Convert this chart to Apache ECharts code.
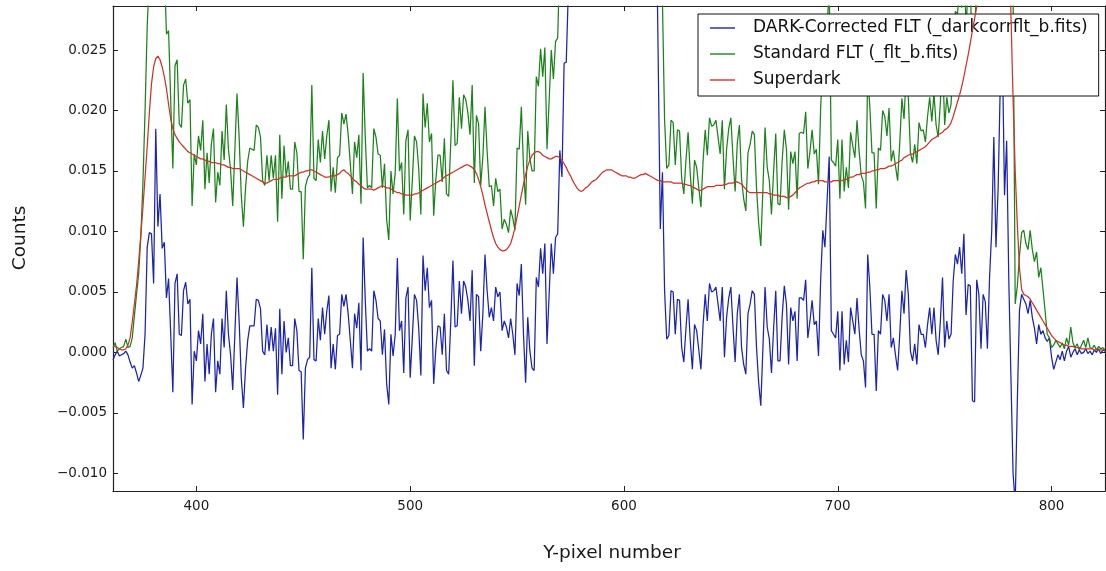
<!DOCTYPE html>
<html>
<head>
<meta charset="utf-8">
<title>Y-pixel profile</title>
<script src="https://cdn.jsdelivr.net/npm/echarts@6/dist/echarts.min.js"></script>
<style>
  html, body { margin: 0; padding: 0; background: #ffffff; }
  #chart { width: 1106px; height: 571px; }
</style>
</head>
<body>
<div id="chart"></div>
<script>
// Y-pixel numbers run 361..825, one sample per pixel
const firstPixel = 361;

// DARK-Corrected FLT (_darkcorrflt_b.fits)
const darkCorrected = [
  -0.0006,-0.0002,0.0001,-0.0003,-0.0002,-0.0001,0.0001,-0.0002,-0.0008,-0.0013, // 361
  -0.0011,-0.0017,-0.0024,-0.0019,-0.0013,0.0015,0.0087,0.0099,0.0098,0.0057,
  0.0185,0.0104,0.0131,0.0086,0.0091,0.0045,0.0061,0.0015,-0.0033,0.0057,
  0.0065,0.0015,0.0014,0.0051,0.0058,0.0040,0.0044,-0.0043,0.0001,-0.0007,
  0.0018,0.0007,0.0032,-0.0024,0.0007,-0.0018,0.0015,0.0028,-0.0033,-0.0007, // 401
  -0.0018,0.0028,0.0004,0.0051,0.0015,-0.0002,-0.0031,0.0015,0.0062,0.0026,
  -0.0021,-0.0046,-0.0013,0.0010,0.0022,0.0022,0.0022,0.0044,0.0043,0.0036,
  0.0001,-0.0002,0.0023,0.0001,0.0021,0.0001,0.0020,-0.0035,0.0036,-0.0018,
  0.0026,0.0000,0.0012,-0.0011,-0.0011,0.0028,0.0018,-0.0015,-0.0016,-0.0072, // 441
  -0.0013,-0.0006,-0.0004,0.0070,-0.0006,-0.0007,0.0028,0.0010,0.0037,0.0015,
  0.0034,0.0047,-0.0013,0.0007,-0.0014,0.0014,0.0015,0.0048,0.0038,0.0048,
  0.0032,0.0010,-0.0013,0.0032,0.0020,0.0041,-0.0015,0.0095,0.0043,0.0001,
  0.0003,0.0001,0.0051,0.0043,0.0028,0.0026,-0.0002,0.0019,-0.0026,-0.0043, // 481
  0.0015,-0.0003,0.0015,0.0078,0.0018,0.0026,-0.0017,0.0045,0.0054,-0.0021,
  0.0012,0.0048,0.0043,0.0020,-0.0019,0.0080,0.0051,0.0070,0.0037,0.0043,
  -0.0026,0.0003,0.0022,0.0021,-0.0002,0.0032,-0.0015,-0.0018,0.0026,0.0076,
  0.0021,0.0022,0.0059,0.0032,0.0059,0.0054,0.0043,0.0026,0.0068,-0.0011, // 521
  0.0048,0.0046,0.0001,0.0032,0.0081,0.0051,0.0029,0.0037,0.0026,0.0054,
  0.0046,0.0050,0.0018,0.0026,0.0021,0.0012,0.0028,0.0015,-0.0002,0.0057,
  0.0047,0.0073,0.0015,-0.0025,0.0029,0.0001,-0.0013,-0.0015,0.0062,0.0054,
  0.0086,0.0065,0.0090,0.0007,0.0048,0.0090,0.0065,0.0095,0.0098,0.0167, // 561
  0.0145,0.0239,0.0240,0.0300,0.0420,0.0510,0.0560,0.0600,0.0620,0.0630,
  0.0640,0.0650,0.0650,0.0660,0.0660,0.0670,0.0670,0.0680,0.0680,0.0690,
  0.0690,0.0690,0.0700,0.0700,0.0700,0.0700,0.0700,0.0690,0.0690,0.0690,
  0.0680,0.0680,0.0670,0.0670,0.0660,0.0650,0.0640,0.0630,0.0620,0.0600, // 601
  0.0580,0.0550,0.0510,0.0450,0.0380,0.0244,0.0102,0.0149,0.0051,0.0011,
  0.0014,0.0051,0.0050,0.0015,0.0044,0.0043,0.0004,-0.0008,0.0020,0.0044,
  0.0010,-0.0014,0.0023,0.0018,0.0002,-0.0014,0.0023,0.0048,0.0026,0.0057,
  0.0050,0.0051,0.0054,0.0040,0.0026,0.0054,-0.0004,0.0029,0.0045,0.0054, // 641
  0.0021,-0.0008,0.0032,0.0048,0.0004,-0.0010,-0.0018,0.0032,0.0040,0.0051,
  0.0048,0.0004,-0.0025,-0.0044,0.0004,0.0054,0.0021,0.0011,-0.0017,0.0020,
  0.0051,-0.0007,-0.0007,0.0030,0.0055,0.0040,-0.0010,0.0037,0.0026,0.0034,
  -0.0007,0.0045,0.0045,0.0043,0.0060,0.0012,0.0026,0.0043,0.0023,0.0026, // 681
  -0.0003,0.0060,0.0101,0.0087,0.0125,0.0162,0.0018,0.0015,0.0012,0.0034,
  -0.0015,0.0034,-0.0010,0.0010,-0.0008,0.0037,0.0026,0.0015,0.0045,0.0019,
  -0.0002,-0.0007,-0.0029,0.0081,0.0054,0.0015,0.0015,-0.0032,0.0018,0.0015,
  0.0048,0.0043,0.0026,0.0048,0.0004,0.0012,-0.0002,-0.0015,0.0015,0.0051, // 721
  0.0032,0.0068,0.0048,0.0001,-0.0007,0.0007,-0.0010,0.0023,0.0015,0.0015,
  0.0004,0.0023,0.0037,0.0015,0.0037,0.0010,-0.0002,0.0026,0.0062,0.0004,
  0.0026,0.0011,0.0015,0.0059,0.0081,0.0073,0.0087,0.0065,0.0098,0.0031,
  0.0056,0.0055,-0.0040,-0.0041,0.0060,0.0048,0.0003,0.0048,0.0042,0.0003, // 761
  0.0062,0.0100,0.0178,0.0087,0.0135,0.0220,0.0250,0.0130,0.0175,0.0060,
  -0.0020,-0.0100,-0.0125,-0.0040,0.0035,0.0048,0.0044,0.0040,0.0032,0.0043,
  0.0029,0.0020,0.0007,0.0023,0.0015,0.0018,0.0012,0.0009,0.0012,-0.0004,
  -0.0014,-0.0008,-0.0002,-0.0006,0.0001,-0.0007,0.0001,0.0005,-0.0004,0.0000, // 801
  0.0003,-0.0002,0.0002,-0.0001,0.0000,0.0003,-0.0001,0.0001,-0.0002,0.0002,
  0.0000,0.0003,-0.0001,0.0002,0.0001
];

// Standard FLT (_flt_b.fits)
const standardFlt = [
  0.0004,0.0008,0.0001,0.0003,0.0004,0.0005,0.0011,0.0004,0.0005,0.0012, // 361
  0.0030,0.0048,0.0065,0.0095,0.0140,0.0200,0.0270,0.0310,0.0340,0.0330,
  0.0430,0.0370,0.0380,0.0330,0.0320,0.0263,0.0266,0.0208,0.0152,0.0237,
  0.0242,0.0189,0.0186,0.0221,0.0226,0.0206,0.0209,0.0121,0.0164,0.0155,
  0.0179,0.0167,0.0192,0.0135,0.0165,0.0140,0.0172,0.0185,0.0124,0.0149, // 401
  0.0138,0.0183,0.0159,0.0205,0.0168,0.0151,0.0121,0.0167,0.0214,0.0178,
  0.0130,0.0104,0.0136,0.0158,0.0169,0.0168,0.0167,0.0188,0.0186,0.0178,
  0.0142,0.0138,0.0163,0.0142,0.0163,0.0144,0.0163,0.0108,0.0180,0.0127,
  0.0171,0.0145,0.0158,0.0135,0.0135,0.0174,0.0165,0.0133,0.0133,0.0077, // 441
  0.0137,0.0144,0.0147,0.0221,0.0144,0.0142,0.0176,0.0157,0.0183,0.0160,
  0.0179,0.0192,0.0133,0.0153,0.0132,0.0161,0.0163,0.0198,0.0189,0.0197,
  0.0180,0.0156,0.0131,0.0174,0.0161,0.0180,0.0123,0.0231,0.0178,0.0136,
  0.0138,0.0136,0.0185,0.0178,0.0164,0.0163,0.0136,0.0156,0.0110,0.0093, // 481
  0.0150,0.0131,0.0148,0.0210,0.0150,0.0157,0.0114,0.0175,0.0184,0.0109,
  0.0142,0.0179,0.0174,0.0152,0.0114,0.0214,0.0186,0.0206,0.0174,0.0181,
  0.0113,0.0143,0.0163,0.0163,0.0141,0.0177,0.0131,0.0129,0.0174,0.0225,
  0.0171,0.0173,0.0211,0.0185,0.0213,0.0209,0.0198,0.0180,0.0221,0.0140, // 521
  0.0196,0.0189,0.0138,0.0162,0.0203,0.0166,0.0137,0.0138,0.0121,0.0144,
  0.0133,0.0135,0.0102,0.0110,0.0106,0.0099,0.0118,0.0111,0.0101,0.0169,
  0.0168,0.0203,0.0154,0.0122,0.0183,0.0160,0.0150,0.0150,0.0228,0.0220,
  0.0251,0.0228,0.0252,0.0168,0.0208,0.0250,0.0226,0.0257,0.0260,0.0328, // 561
  0.0304,0.0395,0.0393,0.0449,0.0566,0.0652,0.0699,0.0736,0.0754,0.0763,
  0.0774,0.0786,0.0787,0.0799,0.0801,0.0812,0.0813,0.0825,0.0827,0.0839,
  0.0840,0.0841,0.0851,0.0851,0.0850,0.0849,0.0848,0.0837,0.0836,0.0836,
  0.0826,0.0825,0.0815,0.0814,0.0804,0.0795,0.0786,0.0777,0.0767,0.0748, // 601
  0.0727,0.0696,0.0655,0.0594,0.0523,0.0386,0.0340,0.0290,0.0192,0.0152,
  0.0155,0.0192,0.0190,0.0155,0.0184,0.0183,0.0144,0.0131,0.0159,0.0182,
  0.0148,0.0123,0.0159,0.0153,0.0136,0.0120,0.0158,0.0184,0.0163,0.0194,
  0.0187,0.0188,0.0192,0.0178,0.0164,0.0192,0.0135,0.0168,0.0185,0.0194, // 641
  0.0161,0.0133,0.0173,0.0188,0.0143,0.0127,0.0117,0.0165,0.0172,0.0183,
  0.0180,0.0136,0.0107,0.0088,0.0136,0.0186,0.0153,0.0142,0.0114,0.0150,
  0.0181,0.0123,0.0122,0.0159,0.0184,0.0168,0.0118,0.0166,0.0156,0.0166,
  0.0127,0.0181,0.0182,0.0181,0.0199,0.0152,0.0166,0.0184,0.0164,0.0168, // 681
  0.0139,0.0202,0.0243,0.0228,0.0266,0.0303,0.0159,0.0157,0.0154,0.0176,
  0.0127,0.0176,0.0133,0.0153,0.0136,0.0182,0.0171,0.0161,0.0192,0.0166,
  0.0146,0.0141,0.0119,0.0230,0.0203,0.0165,0.0165,0.0119,0.0169,0.0167,
  0.0200,0.0195,0.0179,0.0202,0.0158,0.0167,0.0154,0.0142,0.0173,0.0210, // 721
  0.0193,0.0230,0.0211,0.0165,0.0157,0.0172,0.0156,0.0190,0.0183,0.0184,
  0.0174,0.0195,0.0211,0.0191,0.0214,0.0188,0.0178,0.0207,0.0244,0.0188,
  0.0211,0.0198,0.0205,0.0254,0.0282,0.0280,0.0300,0.0285,0.0326,0.0268,
  0.0302,0.0311,0.0226,0.0235,0.0346,0.0346,0.0313,0.0373,0.0382,0.0358, // 761
  0.0432,0.0485,0.0578,0.0507,0.0575,0.0670,0.0710,0.0580,0.0595,0.0500,
  0.0400,0.0300,0.0040,0.0055,0.0080,0.0099,0.0101,0.0090,0.0085,0.0101,
  0.0085,0.0075,0.0083,0.0062,0.0070,0.0052,0.0034,0.0015,0.0012,0.0004,
  0.0006,0.0010,0.0007,0.0004,0.0008,0.0003,0.0012,0.0006,0.0021,0.0008, // 801
  0.0004,0.0007,0.0002,0.0006,0.0010,0.0004,0.0012,0.0004,0.0003,0.0006,
  0.0002,0.0005,0.0003,0.0004,0.0002
];

// Superdark
const superdark = [
  0.0005,0.0005,0.0004,0.0003,0.0002,0.0002,0.0003,0.0006,0.0012,0.0025, // 361
  0.0040,0.0055,0.0075,0.0097,0.0120,0.0145,0.0170,0.0198,0.0222,0.0236,
  0.0243,0.0245,0.0242,0.0236,0.0228,0.0218,0.0205,0.0193,0.0185,0.0180,
  0.0177,0.0174,0.0172,0.0170,0.0168,0.0166,0.0165,0.0164,0.0163,0.0162,
  0.0161,0.0160,0.0160,0.0159,0.0158,0.0158,0.0157,0.0157,0.0157,0.0156, // 401
  0.0156,0.0155,0.0155,0.0154,0.0153,0.0153,0.0152,0.0152,0.0152,0.0152,
  0.0151,0.0150,0.0149,0.0148,0.0147,0.0146,0.0145,0.0144,0.0143,0.0142,
  0.0141,0.0140,0.0140,0.0141,0.0142,0.0143,0.0143,0.0143,0.0144,0.0145,
  0.0145,0.0145,0.0146,0.0146,0.0146,0.0146,0.0147,0.0148,0.0149,0.0149, // 441
  0.0150,0.0150,0.0151,0.0151,0.0150,0.0149,0.0148,0.0147,0.0146,0.0145,
  0.0145,0.0145,0.0146,0.0146,0.0146,0.0147,0.0148,0.0150,0.0151,0.0149,
  0.0148,0.0146,0.0144,0.0142,0.0141,0.0139,0.0138,0.0136,0.0135,0.0135,
  0.0135,0.0135,0.0134,0.0135,0.0136,0.0137,0.0138,0.0137,0.0136,0.0136, // 481
  0.0135,0.0134,0.0133,0.0132,0.0132,0.0131,0.0131,0.0130,0.0130,0.0130,
  0.0130,0.0131,0.0131,0.0132,0.0133,0.0134,0.0135,0.0136,0.0137,0.0138,
  0.0139,0.0140,0.0141,0.0142,0.0143,0.0145,0.0146,0.0147,0.0148,0.0149,
  0.0150,0.0151,0.0152,0.0153,0.0154,0.0155,0.0155,0.0154,0.0153,0.0151, // 521
  0.0148,0.0143,0.0137,0.0130,0.0122,0.0115,0.0108,0.0101,0.0095,0.0090,
  0.0087,0.0085,0.0084,0.0084,0.0085,0.0087,0.0090,0.0096,0.0103,0.0112,
  0.0121,0.0130,0.0139,0.0147,0.0154,0.0159,0.0163,0.0165,0.0166,0.0166,
  0.0165,0.0163,0.0162,0.0161,0.0160,0.0160,0.0161,0.0162,0.0162,0.0161, // 561
  0.0159,0.0156,0.0153,0.0149,0.0146,0.0142,0.0139,0.0136,0.0134,0.0133,
  0.0134,0.0136,0.0137,0.0139,0.0141,0.0142,0.0143,0.0145,0.0147,0.0149,
  0.0150,0.0151,0.0151,0.0151,0.0150,0.0149,0.0148,0.0147,0.0146,0.0146,
  0.0146,0.0145,0.0145,0.0144,0.0144,0.0145,0.0146,0.0147,0.0147,0.0148, // 601
  0.0147,0.0146,0.0145,0.0144,0.0143,0.0142,0.0142,0.0141,0.0141,0.0141,
  0.0141,0.0141,0.0140,0.0140,0.0140,0.0140,0.0140,0.0139,0.0139,0.0138,
  0.0138,0.0137,0.0136,0.0135,0.0134,0.0134,0.0135,0.0136,0.0137,0.0137,
  0.0137,0.0137,0.0138,0.0138,0.0138,0.0138,0.0139,0.0139,0.0140,0.0140, // 641
  0.0140,0.0141,0.0141,0.0140,0.0139,0.0137,0.0135,0.0133,0.0132,0.0132,
  0.0132,0.0132,0.0132,0.0132,0.0132,0.0132,0.0132,0.0131,0.0131,0.0130,
  0.0130,0.0130,0.0129,0.0129,0.0129,0.0128,0.0128,0.0129,0.0130,0.0132,
  0.0134,0.0136,0.0137,0.0138,0.0139,0.0140,0.0140,0.0141,0.0141,0.0142, // 681
  0.0142,0.0142,0.0142,0.0141,0.0141,0.0141,0.0141,0.0142,0.0142,0.0142,
  0.0142,0.0142,0.0143,0.0143,0.0144,0.0145,0.0145,0.0146,0.0147,0.0147,
  0.0148,0.0148,0.0148,0.0149,0.0149,0.0150,0.0150,0.0151,0.0151,0.0152,
  0.0152,0.0152,0.0153,0.0154,0.0154,0.0155,0.0156,0.0157,0.0158,0.0159, // 721
  0.0161,0.0162,0.0163,0.0164,0.0164,0.0165,0.0166,0.0167,0.0168,0.0169,
  0.0170,0.0172,0.0174,0.0176,0.0177,0.0178,0.0180,0.0181,0.0182,0.0184,
  0.0185,0.0187,0.0190,0.0195,0.0201,0.0207,0.0213,0.0220,0.0228,0.0237,
  0.0246,0.0256,0.0266,0.0276,0.0286,0.0298,0.0310,0.0325,0.0340,0.0355, // 761
  0.0370,0.0385,0.0400,0.0420,0.0440,0.0450,0.0460,0.0450,0.0420,0.0360,
  0.0280,0.0210,0.0150,0.0105,0.0070,0.0052,0.0048,0.0047,0.0046,0.0044,
  0.0041,0.0038,0.0035,0.0032,0.0029,0.0026,0.0023,0.0020,0.0017,0.0014,
  0.0012,0.0010,0.0009,0.0008,0.0007,0.0006,0.0006,0.0005,0.0005,0.0005, // 801
  0.0004,0.0004,0.0004,0.0003,0.0003,0.0003,0.0003,0.0003,0.0003,0.0002,
  0.0002,0.0002,0.0002,0.0002,0.0002
];

// Axis ticks and their labels
const xTickValues = [400, 500, 600, 700, 800];
const xTickLabels = ['400', '500', '600', '700', '800'];
const yTickValues = [-0.010, -0.005, 0.000, 0.005, 0.010, 0.015, 0.020, 0.025];
const yTickLabels = ['\u22120.010', '\u22120.005', '0.000', '0.005', '0.010', '0.015', '0.020', '0.025'];

const seriesNames = [
  'DARK-Corrected FLT (_darkcorrflt_b.fits)',
  'Standard FLT (_flt_b.fits)',
  'Superdark'
];
const seriesColors = ['#1a24ad', '#1c821c', '#c8352a'];

function toPairs(values) {
  return values.map((v, i) => [firstPixel + i, v]);
}

function labelFor(values, labels) {
  return function (v) {
    for (let i = 0; i < values.length; i++) {
      if (Math.abs(values[i] - v) < 1e-9) return labels[i];
    }
    return '';
  };
}

const FONT = 'DejaVu Sans';
const INK = '#1a1a1a';
const FRAME = '#222222';

const chart = echarts.init(document.getElementById('chart'), null, { renderer: 'canvas' });

const frameAxisX = (pos, showLabels) => ({
  type: 'value',
  position: pos,
  min: 361,
  max: 825,
  splitNumber: 5,
  axisLine: { show: true, onZero: false, lineStyle: { color: FRAME, width: 1.2 } },
  axisTick: { show: true, inside: true, length: 5, customValues: xTickValues, lineStyle: { color: FRAME, width: 1 } },
  axisLabel: {
    show: showLabels,
    customValues: xTickValues,
    formatter: labelFor(xTickValues, xTickLabels),
    fontFamily: FONT, fontSize: 13.5, color: INK, margin: 8
  },
  splitLine: { show: false }
});

const frameAxisY = (pos, showLabels) => ({
  type: 'value',
  position: pos,
  min: -0.01146,
  max: 0.02864,
  splitNumber: 8,
  axisLine: { show: true, onZero: false, lineStyle: { color: FRAME, width: 1.2 } },
  axisTick: { show: true, inside: true, length: 5, customValues: yTickValues, lineStyle: { color: FRAME, width: 1 } },
  axisLabel: {
    show: showLabels,
    customValues: yTickValues,
    formatter: labelFor(yTickValues, yTickLabels),
    fontFamily: FONT, fontSize: 13.5, color: INK, margin: 6
  },
  splitLine: { show: false }
});

const seriesData = [darkCorrected, standardFlt, superdark];

chart.setOption({
  backgroundColor: '#ffffff',
  animation: false,
  grid: { left: 113, right: 1, top: 6, bottom: 80, containLabel: false },
  xAxis: [frameAxisX('bottom', true), frameAxisX('top', false)],
  yAxis: [frameAxisY('left', true), frameAxisY('right', false)],
  legend: {
    orient: 'vertical',
    left: 698,
    top: 14,
    padding: [4, 11, 6, 12],
    itemGap: 6,
    itemWidth: 25,
    itemHeight: 1.4,
    icon: 'rect',
    backgroundColor: '#ffffff',
    borderColor: '#111111',
    borderWidth: 1,
    borderRadius: 0,
    selectedMode: false,
    textStyle: { fontFamily: FONT, fontSize: 17, color: '#111111', lineHeight: 20, padding: [0, 0, 0, 13] },
    data: seriesNames
  },
  series: seriesData.map((vals, k) => ({
    name: seriesNames[k],
    type: 'line',
    xAxisIndex: 0,
    yAxisIndex: 0,
    data: toPairs(vals),
    showSymbol: false,
    symbol: 'none',
    clip: true,
    silent: true,
    color: seriesColors[k],
    lineStyle: { color: seriesColors[k], width: 1.25 },
    z: 2 + k
  })),
  graphic: [
    {
      type: 'text',
      x: 20,
      y: 238,
      rotation: Math.PI / 2,
      style: {
        text: 'Counts',
        font: '18.5px "' + FONT + '"',
        fill: INK,
        textAlign: 'center',
        textVerticalAlign: 'middle'
      }
    },
    {
      type: 'text',
      x: 612,
      y: 553,
      style: {
        text: 'Y-pixel number',
        font: '18.5px "' + FONT + '"',
        fill: INK,
        textAlign: 'center',
        textVerticalAlign: 'middle'
      }
    }
  ]
});
</script>
</body>
</html>
